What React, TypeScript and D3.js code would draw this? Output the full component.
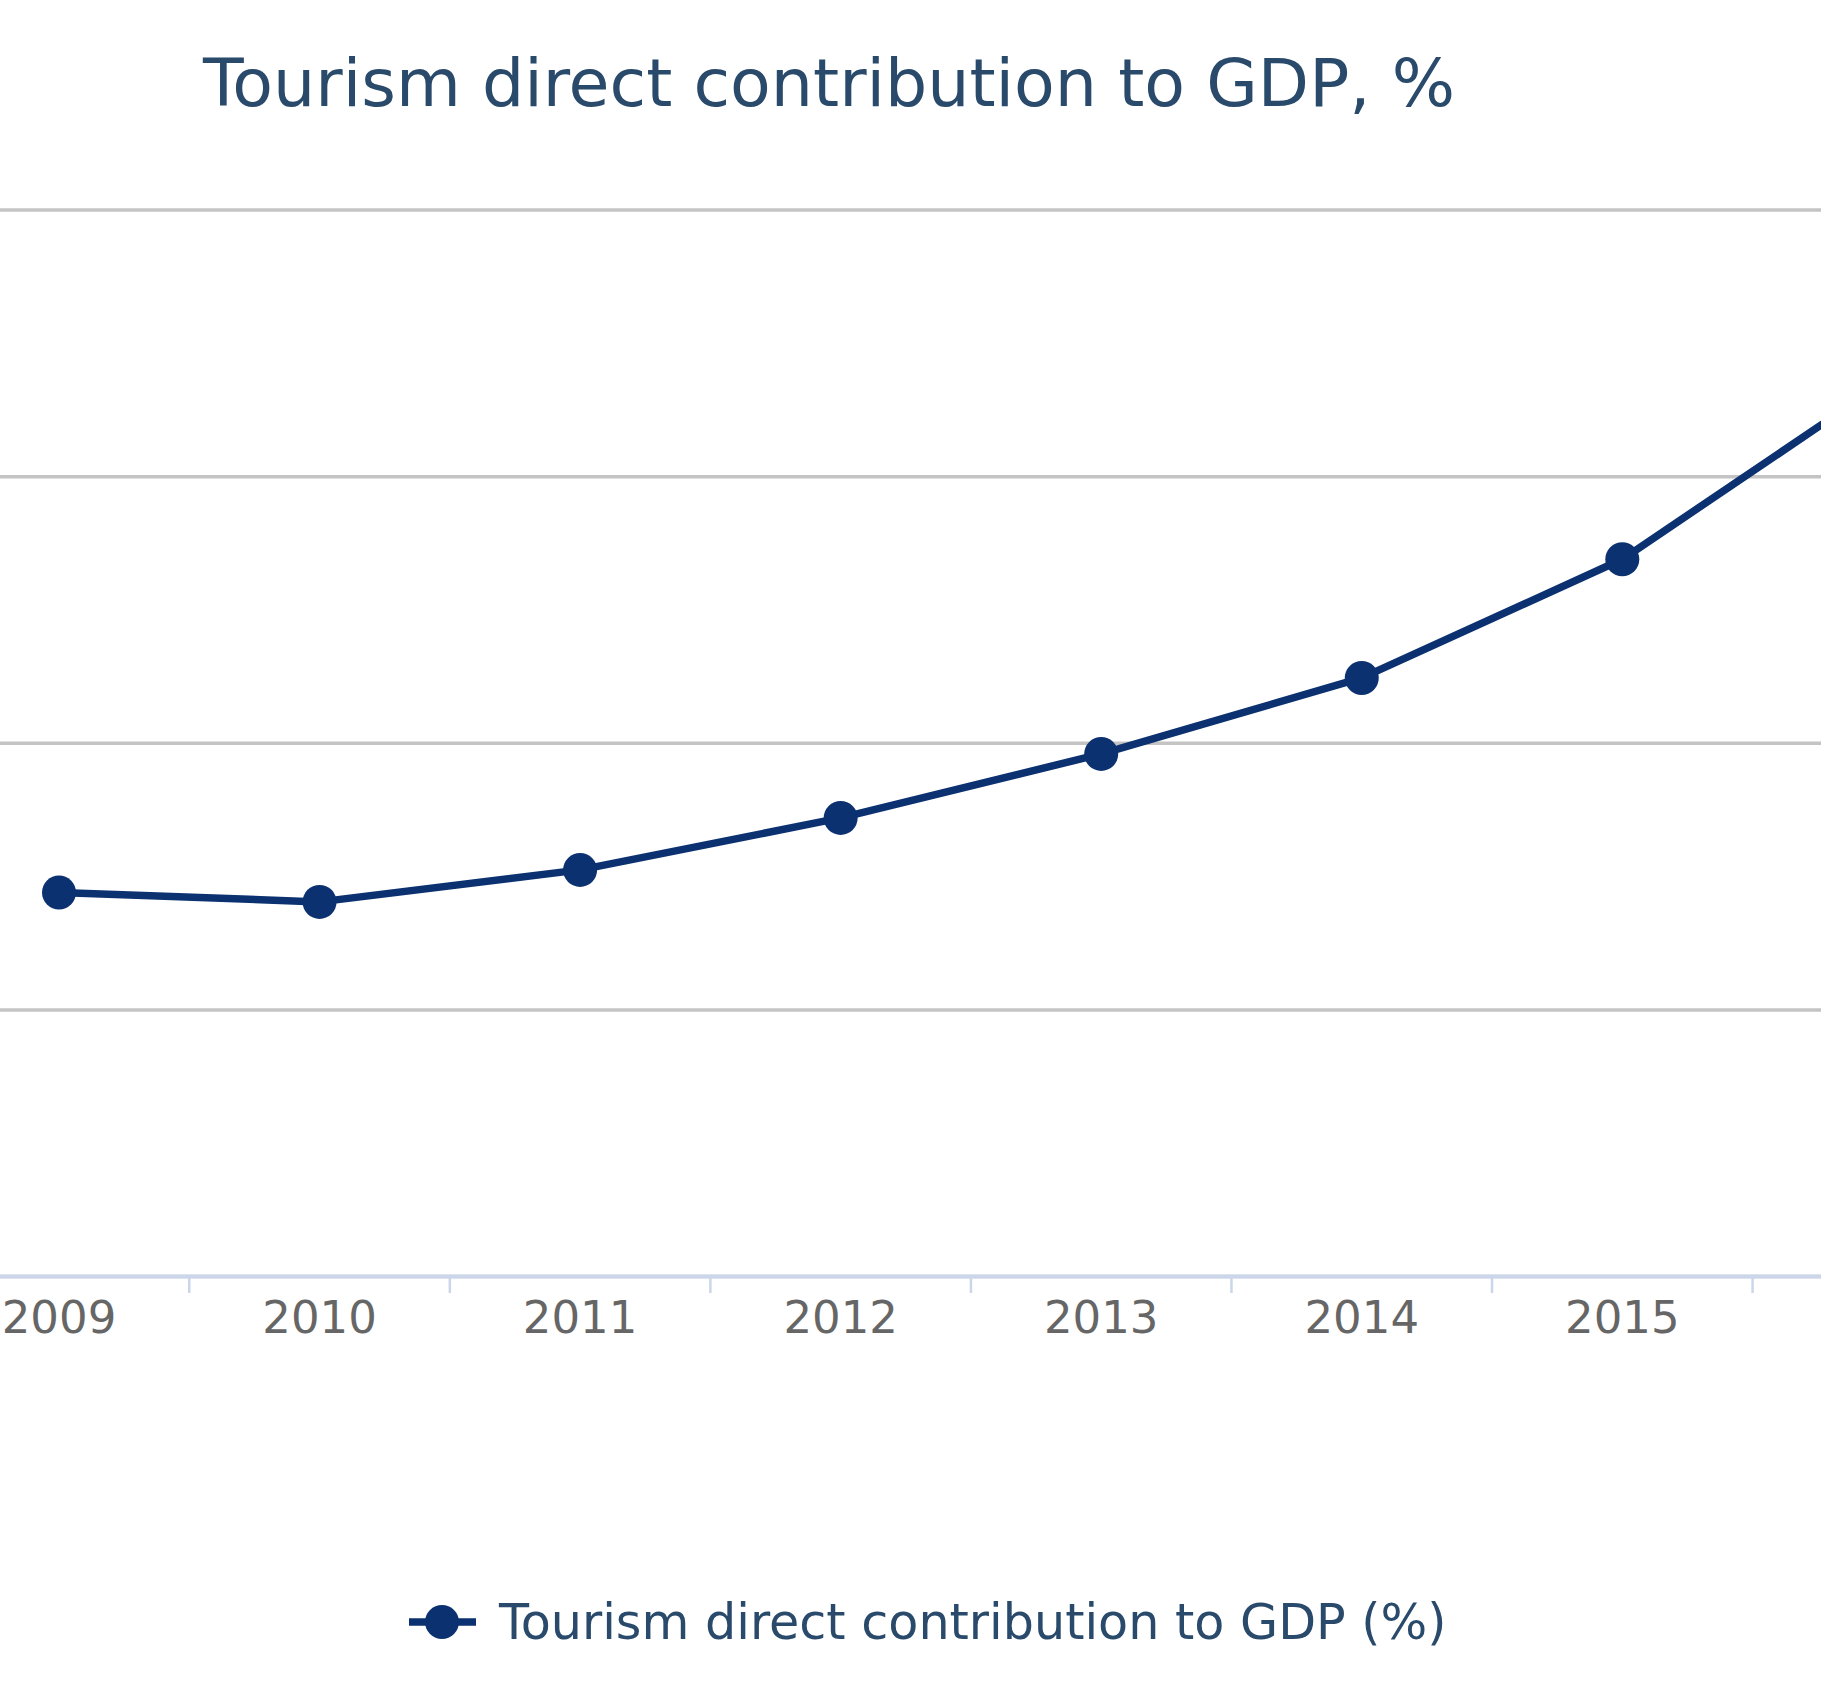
import React from "react";
import * as d3 from "d3";

const years = ["2009", "2010", "2011", "2012", "2013", "2014", "2015", "2016"];
const values = [2.88, 2.81, 3.05, 3.44, 3.92, 4.49, 5.38, 6.7];
const yTicks = [0, 2, 4, 6, 8];

const W = 1821;
const H = 1699;
const FONT = "'DejaVu Sans', sans-serif";

export default function App() {
  const band = 260.55;
  const plotLeft = 59 - band / 2;
  const x = d3
    .scaleBand<string>()
    .domain(years)
    .range([plotLeft, plotLeft + band * years.length]);
  const y = d3.scaleLinear().domain([0, 8]).range([1276.5, 210]);
  const cx = (c: string) => (x(c) as number) + x.bandwidth() / 2;
  const line = d3
    .line<number>()
    .x((_, i) => cx(years[i]))
    .y((v) => y(v));
  const boundaries = years.map((c) => x(c) as number).concat([plotLeft + band * years.length]);
  const visibleLabels = years.filter((c) => cx(c) < W - 40);

  return (
    <svg
      width={W}
      height={H}
      style={{ position: "absolute", left: 0, top: 0, background: "#ffffff" }}
    >
      <defs>
        <clipPath id="clip">
          <rect x={0} y={0} width={W} height={H} />
        </clipPath>
      </defs>
      <rect x={0} y={0} width={W} height={H} fill="#ffffff" />
      <text x={203} y={106} fill="#2a4a6b" fontFamily={FONT} fontSize={66.6}>
        Tourism direct contribution to GDP, %
      </text>
      <g clipPath="url(#clip)">
        {yTicks.map((t) => (
          <line key={t} x1={0} x2={W} y1={y(t)} y2={y(t)} stroke="#c4c4c4" strokeWidth={3.5} />
        ))}
        <line x1={0} x2={W} y1={1276.5} y2={1276.5} stroke="#ccd6eb" strokeWidth={4} />
        {boundaries.map((b, i) => (
          <line key={i} x1={b} x2={b} y1={1276} y2={1293} stroke="#ccd6eb" strokeWidth={2.5} />
        ))}
        {visibleLabels.map((c) => (
          <text
            key={c}
            x={cx(c)}
            y={1333}
            textAnchor="middle"
            fill="#666666"
            fontFamily={FONT}
            fontSize={45}
          >
            {c}
          </text>
        ))}
        <path d={line(values) || ""} fill="none" stroke="#0b3170" strokeWidth={7.5} strokeLinejoin="round" />
        {values.map((v, i) => (
          <circle key={i} cx={cx(years[i])} cy={y(v)} r={17} fill="#0b3170" />
        ))}
      </g>
      <g>
        <line x1={409} x2={476} y1={1622} y2={1622} stroke="#0b3170" strokeWidth={7.5} />
        <circle cx={442} cy={1622} r={17} fill="#0b3170" />
        <text x={499} y={1639} fill="#2a4a6b" fontFamily={FONT} fontSize={49.2}>
          Tourism direct contribution to GDP (%)
        </text>
      </g>
    </svg>
  );
}
